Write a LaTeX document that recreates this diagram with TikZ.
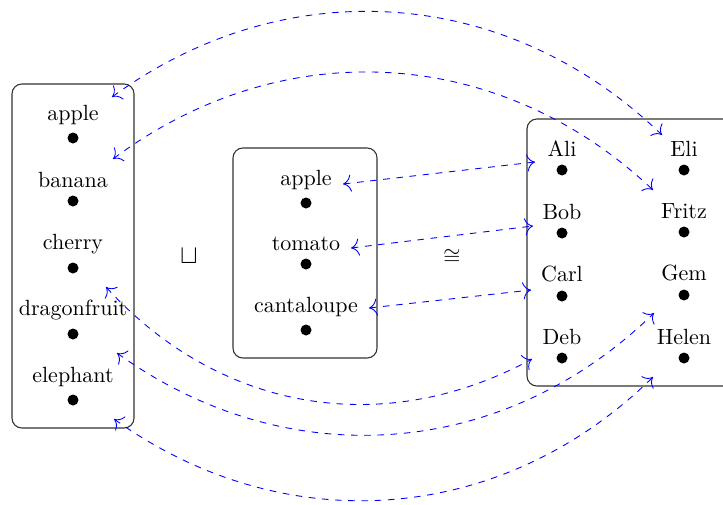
\documentclass[tikz,border=0pt]{standalone}
\usetikzlibrary{positioning,calc,arrows.meta}
\begin{document}
\begin{tikzpicture}[x=0.4545pt,y=-0.4545pt,
  dot/.style={circle,fill=black,inner sep=0pt,minimum size=5pt},
  setbox/.style={draw=black!80,line width=0.5pt,rounded corners=4.5pt},
  conn/.style={blue,dashed,{To[scale=1.5]}-{To[scale=1.5]},line width=0.4pt},
  oper/.style={inner sep=0pt}]
\clip (0,0) rectangle (723,504);
% boxes
\draw[setbox] (12,84) rectangle (134,428);
\draw[setbox] (233,148) rectangle (377,358);
\draw[setbox] (527,119) rectangle (760,386);
% left set
\node[dot,label={[inner sep=3.33pt]above:apple}] (dApple) at (73,138) {};
\node[dot,label={[inner sep=3.33pt]above:banana}] (dBanana) at (73,201) {};
\node[dot,label={[inner sep=3.33pt]above:cherry}] (dCherry) at (73,268) {};
\node[dot,label={[inner sep=3.33pt]above:dragonfruit}] (dDragon) at (73,334) {};
\node[dot,label={[inner sep=3.33pt]above:elephant}] (dElephant) at (73,400) {};
% middle set
\node[dot,label={[inner sep=3.33pt]above:apple}] (dMApple) at (306,203) {};
\node[dot,label={[inner sep=3.33pt]above:tomato}] (dTomato) at (306,264) {};
\node[dot,label={[inner sep=3.33pt]above:cantaloupe}] (dCant) at (306,330) {};
% right set
\node[dot,label={[inner sep=3.33pt]above:Ali}] (dAli) at (562,170) {};
\node[dot,label={[inner sep=3.33pt]above:Bob}] (dBob) at (562,233) {};
\node[dot,label={[inner sep=3.33pt]above:Carl}] (dCarl) at (562,296) {};
\node[dot,label={[inner sep=3.33pt]above:Deb}] (dDeb) at (562,358) {};
\node[dot,label={[inner sep=3.33pt]above:Eli}] (dEli) at (684,170) {};
\node[dot,label={[inner sep=3.33pt]above:Fritz}] (dFritz) at (684,232) {};
\node[dot,label={[inner sep=3.33pt]above:Gem}] (dGem) at (684,295) {};
\node[dot,label={[inner sep=3.33pt]above:Helen}] (dHelen) at (684,358) {};
% operators
\node[oper,font=\fontsize{11.5}{13}\selectfont] (sqcup) at (189,256) {$\sqcup$};
\node[oper] (cong) at (452,257) {$\cong$};
% curved connectors
\draw[conn] ($(dApple)+(39,-41)$) to[bend left=40] ($(dEli)+(-22,-35)$);
\draw[conn] ($(dBanana)+(40,-42)$) to[bend left=40] ($(dFritz)+(-31,-42)$);
\draw[conn] ($(dCherry)+(33,19)$) to[bend right=38] ($(dDeb)+(-30,1)$);
\draw[conn] ($(dDragon)+(44,19)$) to[bend right=40] ($(dGem)+(-30,18)$);
\draw[conn] ($(dElephant)+(41,19)$) to[bend right=40] ($(dHelen)+(-31,19)$);
% straight connectors
\draw[conn] ($(dMApple)+(37,-19)$) -- ($(dAli)+(-27,-8)$);
\draw[conn] ($(dTomato)+(45,-16)$) -- ($(dBob)+(-29,-7)$);
\draw[conn] ($(dCant)+(63,-22)$) -- ($(dCarl)+(-31,-6)$);
\end{tikzpicture}
\end{document}
